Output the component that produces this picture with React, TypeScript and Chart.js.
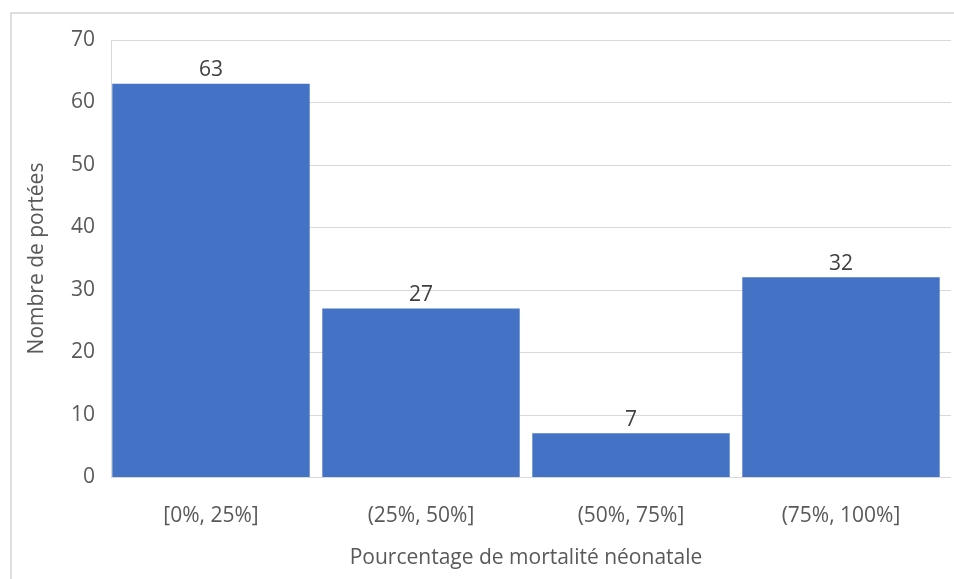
import { useEffect, useRef } from "react";
import { Chart, registerables } from "chart.js";

Chart.register(...registerables);

const categories = ["[0%, 25%]", "(25%, 50%]", "(50%, 75%]", "(75%, 100%]"];
const counts = [63, 27, 7, 32];
const yMin = 0;
const yMax = 70;
const yStep = 10;
const xTitle = "Pourcentage de mortalité néonatale";
const yTitle = "Nombre de portées";

const FONT = "'Open Sans', sans-serif";
const FONT_SIZE = 21;
const TEXT = "#595959";
const GRID = "#d9d9d9";
const BAR = "#4472C4";

const framePlugin = {
  id: "frame",
  beforeDraw(chart: any) {
    const ctx = chart.ctx;
    ctx.save();
    ctx.fillStyle = "#ffffff";
    ctx.fillRect(0, 0, chart.width, chart.height);
    ctx.strokeStyle = "#dedede";
    ctx.lineWidth = 2;
    ctx.beginPath();
    ctx.moveTo(11, chart.height);
    ctx.lineTo(11, 13);
    ctx.lineTo(chart.width, 13);
    ctx.stroke();
    // gridlines
    const y = chart.scales.y;
    const area = chart.chartArea;
    ctx.strokeStyle = GRID;
    ctx.lineWidth = 1;
    for (let v = yMin; v <= yMax; v += yStep) {
      const py = Math.round(y.getPixelForValue(v)) + 0.5;
      ctx.beginPath();
      ctx.moveTo(area.left + 5, py);
      ctx.lineTo(area.right + 5, py);
      ctx.stroke();
    }
    ctx.beginPath();
    ctx.moveTo(area.left + 5.5, Math.round(y.getPixelForValue(yMax)) + 0.5);
    ctx.lineTo(area.left + 5.5, Math.round(y.getPixelForValue(yMin)) + 0.5);
    ctx.stroke();
    ctx.restore();
  },
};

const labelPlugin = {
  id: "valueLabels",
  afterDatasetsDraw(chart: any) {
    const ctx = chart.ctx;
    const meta = chart.getDatasetMeta(0);
    ctx.save();
    ctx.fillStyle = "#404040";
    ctx.font = `${FONT_SIZE}px ${FONT}`;
    ctx.textAlign = "center";
    ctx.textBaseline = "bottom";
    meta.data.forEach((bar: any, i: number) => {
      ctx.fillText(String(counts[i]), bar.x, bar.y - 3);
    });
    ctx.restore();
  },
};

export default function App() {
  const ref = useRef<HTMLCanvasElement>(null);
  useEffect(() => {
    if (!ref.current) return;
    const chart = new Chart(ref.current, {
      type: "bar",
      data: {
        labels: categories,
        datasets: [
          {
            data: counts,
            backgroundColor: BAR,
            borderWidth: 0,
            barPercentage: 1,
            categoryPercentage: 0.94,
          },
        ],
      },
      options: {
        responsive: false,
        animation: false,
        devicePixelRatio: 1,
        layout: { padding: { left: 0, top: 40, right: 8, bottom: 0 } },
        plugins: { legend: { display: false }, tooltip: { enabled: false } },
        scales: {
          x: {
            grid: { display: false, drawTicks: false },
            border: { display: false },
            ticks: { color: TEXT, font: { family: FONT, size: FONT_SIZE }, padding: 26, maxRotation: 0 },
            title: {
              display: true,
              text: xTitle,
              color: TEXT,
              font: { family: FONT, size: FONT_SIZE },
              padding: { top: 0, bottom: 8 },
            },
            afterFit(scale: any) {
              scale.height = 102;
            },
          },
          y: {
            min: yMin,
            max: yMax,
            grid: { display: false, drawTicks: false },
            border: { display: false },
            ticks: { stepSize: yStep, color: TEXT, font: { family: FONT, size: FONT_SIZE }, padding: 11 },
            title: {
              display: true,
              text: yTitle,
              color: TEXT,
              font: { family: FONT, size: FONT_SIZE },
              padding: { top: 24, bottom: 0 },
            },
            afterFit(scale: any) {
              scale.width = 106;
            },
          },
        },
      },
      plugins: [framePlugin, labelPlugin],
    } as any);
    return () => chart.destroy();
  }, []);
  return (
    <canvas
      ref={ref}
      width={954}
      height={579}
      style={{ position: "fixed", left: 0, top: 0, width: 954, height: 579 }}
    />
  );
}
